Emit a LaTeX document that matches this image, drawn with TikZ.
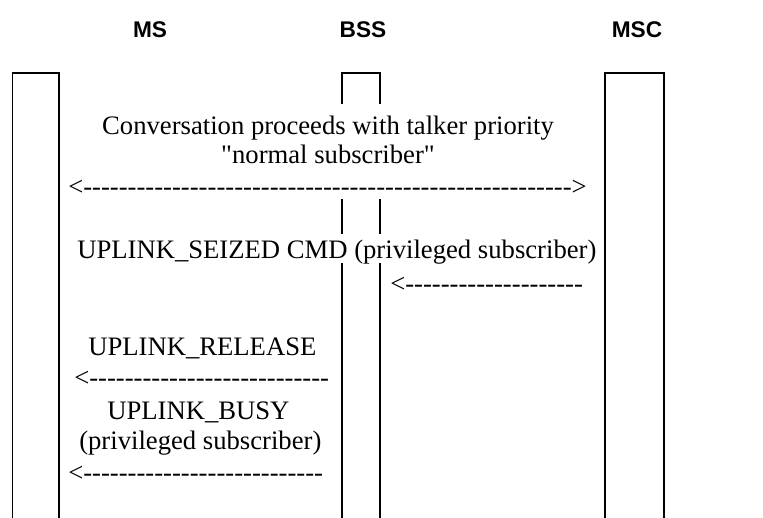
\documentclass[tikz,border=0pt]{standalone}
\usepackage{fontspec}
\newfontfamily\bodyfont{Liberation Serif}
\newfontfamily\hdrfont{Liberation Sans}
\ExplSyntaxOn
\cs_new:Npn \hyphrep #1 {\prg_replicate:nn{#1}{-}}
\ExplSyntaxOff
\tikzset{
  lane/.style={line width=1.2pt, line cap=rect, line join=miter},
  hdr/.style={font=\hdrfont\bfseries\fontsize{17}{20}\selectfont, inner sep=0pt, anchor=base},
  msg/.style={font=\bodyfont\fontsize{20}{24}\selectfont, inner sep=0pt, anchor=base west},
  msgc/.style={font=\bodyfont\fontsize{20}{24}\selectfont, inner sep=0pt, anchor=base}
}
\begin{document}
\begin{tikzpicture}[x=0.75pt,y=-0.75pt]
\useasboundingbox (0,0) rectangle (763,517);
% headers
\node[hdr] (hms) at (150,38) {MS};
\node[hdr] (hbss) at (363,38) {BSS};
\node[hdr] (hmsc) at (637,38) {MSC};
% MS lane
\draw[lane] (12.5,520) -- (12.5,73) -- (59,73) -- (59,520);
% MSC lane
\draw[lane] (605,520) -- (605,73) -- (664,73) -- (664,520);
% BSS lane (broken where text crosses)
\draw[lane] (342,103) -- (342,73) -- (380,73) -- (380,103);
\draw[lane] (342,200) -- (342,232.7);
\draw[lane] (380,200) -- (380,232.7);
\draw[lane] (342,264) -- (342,520);
\draw[lane] (380,264) -- (380,520);
% messages
\node[msgc] (t1) at (328,134) {Conversation proceeds with talker priority};
\node[msgc] (t2) at (328,163) {"normal subscriber"};
\node[msg] (a1) at (68,195) {<\hyphrep{55}>};
\node[msg] (t3) at (77,258) {UPLINK\_SEIZED CMD (privileged subscriber)};
\node[msg] (a2) at (390,292) {<\hyphrep{20}};
\node[msg] (t4) at (88,355) {UPLINK\_RELEASE};
\node[msg] (a3) at (74,386) {<\hyphrep{27}};
\node[msg] (t5) at (107,419) {UPLINK\_BUSY};
\node[msg] (t6) at (79,449) {(privileged subscriber)};
\node[msg] (a4) at (68,481) {<\hyphrep{27}};
\end{tikzpicture}
\end{document}
